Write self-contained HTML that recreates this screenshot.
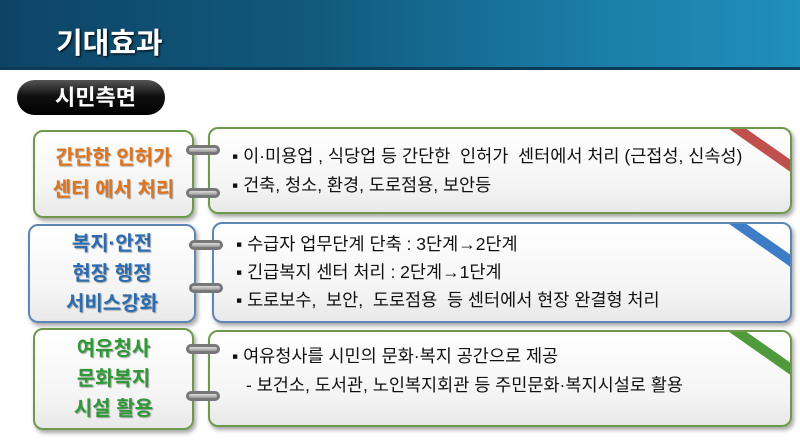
<!DOCTYPE html>
<html><head><meta charset="utf-8"><style>
*{margin:0;padding:0;box-sizing:border-box}
body{width:800px;height:441px;overflow:hidden;background:#fff;position:relative;font-family:"Liberation Sans","Noto Sans CJK KR",sans-serif}
.hdr{position:absolute;left:0;top:0;width:800px;height:70px;background:linear-gradient(90deg,#0d4466 0%,#115a7e 40%,#1b7ea8 75%,#1f8fbb 100%);border-bottom:3px solid #0b3b58}
.hdr span{position:absolute;left:56px;top:20px;color:#fff;font-size:29px;font-weight:bold;text-shadow:1px 1px 2px #000}
.pill{position:absolute;left:17px;top:80px;width:148px;height:35px;border-radius:18px;background:linear-gradient(#555 0%,#111 45%,#000 100%);color:#fff;font-size:22px;font-weight:bold;line-height:35px;padding-left:38px}
.lb,.rb{position:absolute;border-radius:10px;background:linear-gradient(#fff,#f4f4f4 70%,#e8e8e8);box-shadow:2px 3px 4px rgba(0,0,0,.35)}
.lb{border:2px solid;text-align:center;font-weight:bold;font-size:20px;display:flex;flex-direction:column;justify-content:center;text-shadow:1px 1px 1px rgba(0,0,0,.35)}
.rb{border:2px solid;font-size:17.5px;color:#111;overflow:hidden}
.rb p{position:absolute;left:22px;white-space:nowrap;line-height:25px}
.g{border-color:#6c9a4a}.b{border-color:#5b86b6}
.ring{position:absolute;width:34px;height:10px;border-radius:5px;border:3px solid #777;background:linear-gradient(#ddd,#999);}
.rib{position:absolute;width:90px;height:10px;transform:rotate(35deg);transform-origin:center}
</style></head><body>
<div class="hdr"><span>기대효과</span></div>
<div class="pill">시민측면</div>

<div class="lb g" style="left:33px;top:130px;width:161px;height:88px;color:#e0741c;line-height:32px">간단한 인허가<br>센터 에서 처리</div>
<div class="rb g" style="left:208px;top:127px;width:584px;height:87px"><div class="rib" style="background:#c0504d;right:-20px;top:14px"></div>
<p style="top:15px">▪ 이·미용업 , 식당업 등 간단한&nbsp; 인허가&nbsp; 센터에서 처리 (근접성, 신속성)</p>
<p style="top:44px">▪ 건축, 청소, 환경, 도로점용, 보안등</p></div>

<div class="lb b" style="left:28px;top:224px;width:168px;height:99px;color:#2b6cb0;line-height:30px">복지·안전<br>현장 행정<br>서비스강화</div>
<div class="rb b" style="left:212px;top:222px;width:580px;height:101px"><div class="rib" style="background:#3d7cc6;right:-20px;top:14px"></div>
<p style="top:8px">▪ 수급자 업무단계 단축 : 3단계→2단계</p>
<p style="top:36px">▪ 긴급복지 센터 처리 : 2단계→1단계</p>
<p style="top:64px">▪ 도로보수,&nbsp; 보안,&nbsp; 도로점용&nbsp; 등 센터에서 현장 완결형 처리</p></div>

<div class="lb g" style="left:33px;top:328px;width:161px;height:102px;color:#2e9a36;line-height:30px">여유청사<br>문화복지<br>시설 활용</div>
<div class="rb g" style="left:208px;top:330px;width:584px;height:97px"><div class="rib" style="background:#4f9a3a;right:-20px;top:14px"></div>
<p style="top:12px">▪ 여유청사를 시민의 문화·복지 공간으로 제공</p>
<p style="top:41px;left:36px">- 보건소, 도서관, 노인복지회관 등 주민문화·복지시설로 활용</p></div>

<div class="ring" style="left:186px;top:145px"></div>
<div class="ring" style="left:186px;top:188px"></div>
<div class="ring" style="left:189px;top:240px"></div>
<div class="ring" style="left:189px;top:283px"></div>
<div class="ring" style="left:186px;top:344px"></div>
<div class="ring" style="left:186px;top:391px"></div>
</body></html>
